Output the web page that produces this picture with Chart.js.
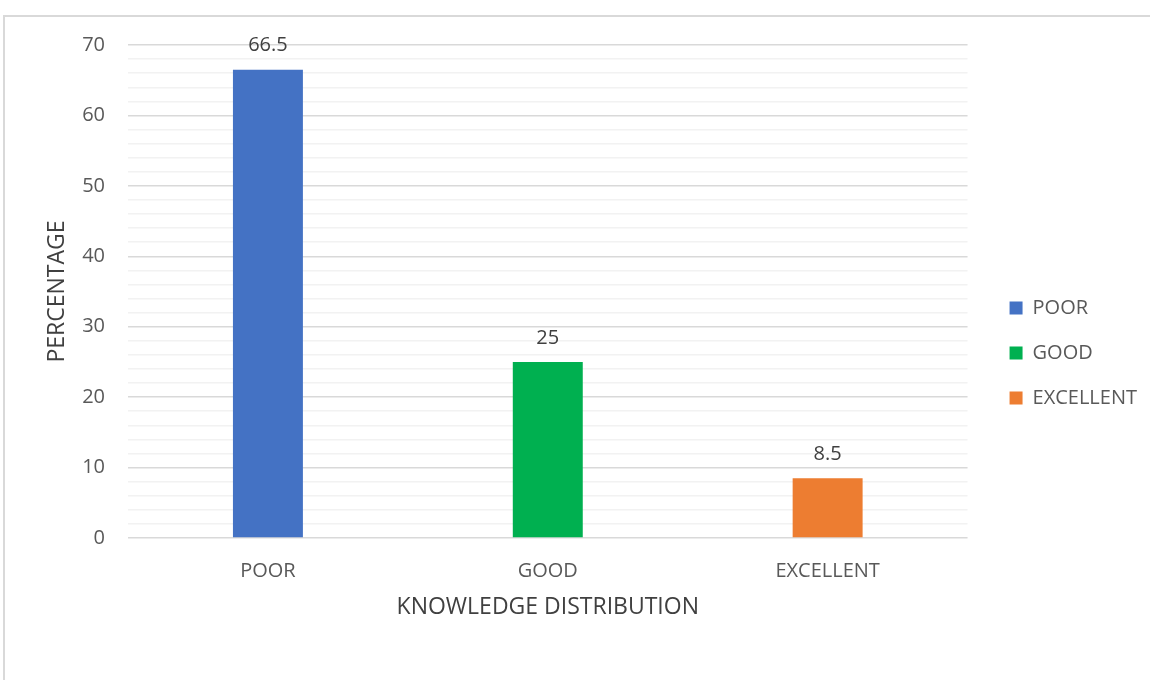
<!DOCTYPE html>
<html>
<head>
<meta charset="utf-8">
<script src="https://cdn.jsdelivr.net/npm/chart.js@4/dist/chart.umd.min.js"></script>
<style>
  html, body { margin: 0; padding: 0; background: #fff; }
  #wrap { width: 1150px; height: 680px; }
</style>
</head>
<body>
<div id="wrap"><canvas id="grafiek" width="1150" height="680"></canvas></div>
<script>
"use strict";
// data
const categories = ['POOR', 'GOOD', 'EXCELLENT'];
const percentages = [66.5, 25, 8.5];
const barColors = ['#4472C4', '#00B050', '#ED7D31'];
const yTickStep = 2;
const yMax = 70;

const tekstKleur = '#595959';
const fontNaam = "'Open Sans', sans-serif";

// rand om de grafiek
const randPlugin = {
    id: 'rand',
    beforeDraw(chart) {
        const c = chart.ctx;
        c.save();
        c.fillStyle = '#fff';
        c.fillRect(0, 0, chart.width, chart.height);
        c.strokeStyle = '#d9d9d9';
        c.lineWidth = 2;
        c.strokeRect(4, 16, 1300, 800);
        c.restore();
    }
};

// waarden boven de staven
const labelPlugin = {
    id: 'waardeLabels',
    afterDatasetsDraw(chart) {
        const c = chart.ctx;
        const meta = chart.getDatasetMeta(0);
        c.save();
        c.font = "20px " + fontNaam;
        c.fillStyle = '#404040';
        c.textAlign = 'center';
        c.textBaseline = 'middle';
        meta.data.forEach((bar, i) => {
            c.fillText(String(percentages[i]), bar.x, bar.y - 24);
        });
        c.restore();
    }
};

const ctx = document.getElementById('grafiek');
const chart = new Chart(ctx, {
    type: 'bar',
    data: {
        labels: categories,
        datasets: [{
            label: 'Percentage',
            data: percentages,
            backgroundColor: barColors,
            borderWidth: 0,
            barPercentage: 0.25,
            categoryPercentage: 1
        }]
    },
    options: {
        responsive: false,
        animation: false,
        layout: { padding: { top: 45, left: 40, right: 3, bottom: 59 } },
        plugins: {
            tooltip: { enabled: false },
            legend: {
                position: 'right',
                title: { display: true, text: ' ', font: { size: 20 }, padding: 8 },
                labels: {
                    boxWidth: 13,
                    boxHeight: 13,
                    padding: 25,
                    color: tekstKleur,
                    font: { family: fontNaam, size: 20 },
                    generateLabels: () => categories.map((cat, i) => ({
                        text: cat,
                        fillStyle: barColors[i],
                        strokeStyle: barColors[i],
                        lineWidth: 0,
                        fontColor: tekstKleur,
                        index: i
                    }))
                },
                onClick: () => {}
            }
        },
        scales: {
            x: {
                grid: { display: false },
                border: { display: false },
                ticks: {
                    color: tekstKleur,
                    font: { family: fontNaam, size: 20 },
                    padding: 13
                },
                title: {
                    display: true,
                    text: 'KNOWLEDGE DISTRIBUTION',
                    color: '#404040',
                    font: { family: fontNaam, size: 23 },
                    padding: 0
                },
                afterFit: (scale) => { scale.height = 83; }
            },
            y: {
                min: 0,
                max: yMax,
                border: { display: false },
                grid: {
                    drawTicks: false,
                    lineWidth: 1.5,
                    color: (c) => (c.tick && c.tick.value % 10 === 0) ? '#d9d9d9' : '#f2f2f2'
                },
                ticks: {
                    stepSize: yTickStep,
                    autoSkip: false,
                    padding: 23,
                    color: tekstKleur,
                    font: { family: fontNaam, size: 20 },
                    callback: (v) => (v % 10 === 0 ? v : '')
                },
                title: {
                    display: true,
                    text: 'PERCENTAGE',
                    color: '#404040',
                    font: { family: fontNaam, size: 23 },
                    padding: { top: 4, bottom: 0 }
                },
                afterFit: (scale) => { scale.width = 88; }
            },
            // lege as rechts, alleen voor ruimte tussen grafiek en legenda
            ruimte: {
                type: 'linear',
                position: 'right',
                display: true,
                grid: { display: false },
                border: { display: false },
                ticks: { display: false },
                afterFit: (scale) => { scale.width = 17; }
            }
        }
    },
    plugins: [randPlugin, labelPlugin]
});
</script>
</body>
</html>
